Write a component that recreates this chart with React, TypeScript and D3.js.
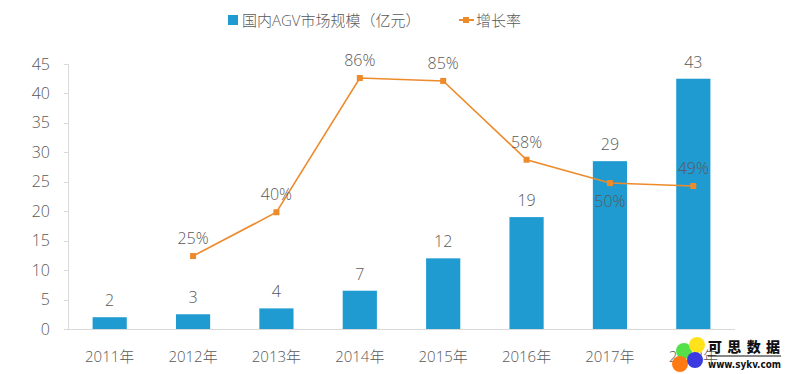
import React from "react";
import * as d3 from "d3";

const categories = ["2011年", "2012年", "2013年", "2014年", "2015年", "2016年", "2017年", "2018年"];
const marketSize = [2.0, 2.5, 3.5, 6.5, 12, 19, 28.5, 42.5];
const marketLabels = ["2", "3", "4", "7", "12", "19", "29", "43"];
const growthYears = ["2012年", "2013年", "2014年", "2015年", "2016年", "2017年", "2018年"];
const growthRate = [0.25, 0.40, 0.86, 0.85, 0.58, 0.50, 0.49];
const growthLabels = ["25%", "40%", "86%", "85%", "58%", "50%", "49%"];
const yTicks = [0, 5, 10, 15, 20, 25, 30, 35, 40, 45];

const W = 785, H = 374;
const left = 68, right = 735, top = 64, bottom = 329;
const BAR = "#1f9bd1";
const LINE = "#ed8b2b";
const TXT = "#595959";
const FONT = "'Open Sans', 'Noto Sans CJK SC', sans-serif";

export default function App() {
  const x = d3.scaleBand<string>().domain(categories).range([left, right]).padding(0);
  const y = d3.scaleLinear().domain([0, 45]).range([bottom, top]);
  const y2 = d3.scaleLinear().domain([0, 0.908]).range([bottom, top]);
  const bw = x.bandwidth() * 0.41;
  const cx = (c: string) => (x(c) as number) + x.bandwidth() / 2;
  const line = d3.line<number>().x((_, i) => cx(growthYears[i])).y((d) => y2(d));

  return (
    <svg width={W} height={H} style={{ position: "absolute", left: 0, top: 0, fontFamily: FONT }}>
      <rect x={0} y={0} width={W} height={H} fill="#fff" />
      {/* legend */}
      <rect x={228} y={15} width={10} height={10} fill={BAR} />
      <text x={242} y={26} fontSize={15} fill={TXT} fontWeight={300}>国内AGV市场规模（亿元）</text>
      <line x1={459} x2={474} y1={20} y2={20} stroke={LINE} strokeWidth={2} />
      <rect x={463} y={17} width={6} height={6} fill={LINE} />
      <text x={476} y={26} fontSize={15} fill={TXT} fontWeight={300}>增长率</text>

      {/* y axis */}
      <line x1={left + 0.5} x2={left + 0.5} y1={top} y2={bottom} stroke="#d9d9d9" />
      {yTicks.map((t) => (
        <g key={t}>
          <line x1={left - 4} x2={left} y1={Math.round(y(t)) + 0.5} y2={Math.round(y(t)) + 0.5} stroke="#d9d9d9" />
          <text x={50} y={y(t) + 5.5} fontSize={16} textAnchor="end" fill={TXT} fontWeight={300}>{t}</text>
        </g>
      ))}

      {/* bars */}
      {categories.map((c, i) => (
        <g key={c}>
          <rect x={cx(c) - bw / 2} y={y(marketSize[i])} width={bw} height={bottom - y(marketSize[i])} fill={BAR} />
          <text x={cx(c)} y={y(marketSize[i]) - 11} fontSize={16} textAnchor="middle" fill={TXT} fontWeight={300}>{marketLabels[i]}</text>
          <text x={cx(c)} y={362} fontSize={15} textAnchor="middle" fill={TXT} fontWeight={300}>{c}</text>
        </g>
      ))}
      <line x1={left} x2={right} y1={bottom + 0.5} y2={bottom + 0.5} stroke="#d9d9d9" />

      {/* growth line */}
      <path d={line(growthRate) || ""} fill="none" stroke={LINE} strokeWidth={1.6} />
      {growthRate.map((g, i) => (
        <g key={i}>
          <rect x={cx(growthYears[i]) - 3} y={y2(g) - 3} width={6} height={6} fill={LINE} />
          <text x={cx(growthYears[i])} y={i === 5 ? y2(g) + 24 : y2(g) - 12} fontSize={16} textAnchor="middle" fill={TXT} fontWeight={300}>{growthLabels[i]}</text>
        </g>
      ))}

      {/* watermark */}
      <g>
        <circle cx={684} cy={351} r={8} fill="#55e04a" />
        <circle cx={697} cy={345} r={8} fill="#ffe21a" />
        <circle cx={680} cy={364} r={8} fill="#ff7a12" />
        <circle cx={695} cy={360} r={8} fill="#3a3ae0" />
        <text x={708} y={352} fontSize={14} fontWeight={900} fill="#111" fontFamily="'Noto Sans CJK SC', sans-serif" textLength={72} lengthAdjust="spacing">可思数据</text>
        <line x1={708} x2={781} y1={356} y2={356} stroke="#111" strokeWidth={1} />
        <text x={708} y={368} fontSize={10} fontWeight={700} fill="#111" fontFamily="'DejaVu Sans Condensed', 'DejaVu Sans', sans-serif" textLength={73} lengthAdjust="spacingAndGlyphs">www.sykv.com</text>
      </g>
    </svg>
  );
}
